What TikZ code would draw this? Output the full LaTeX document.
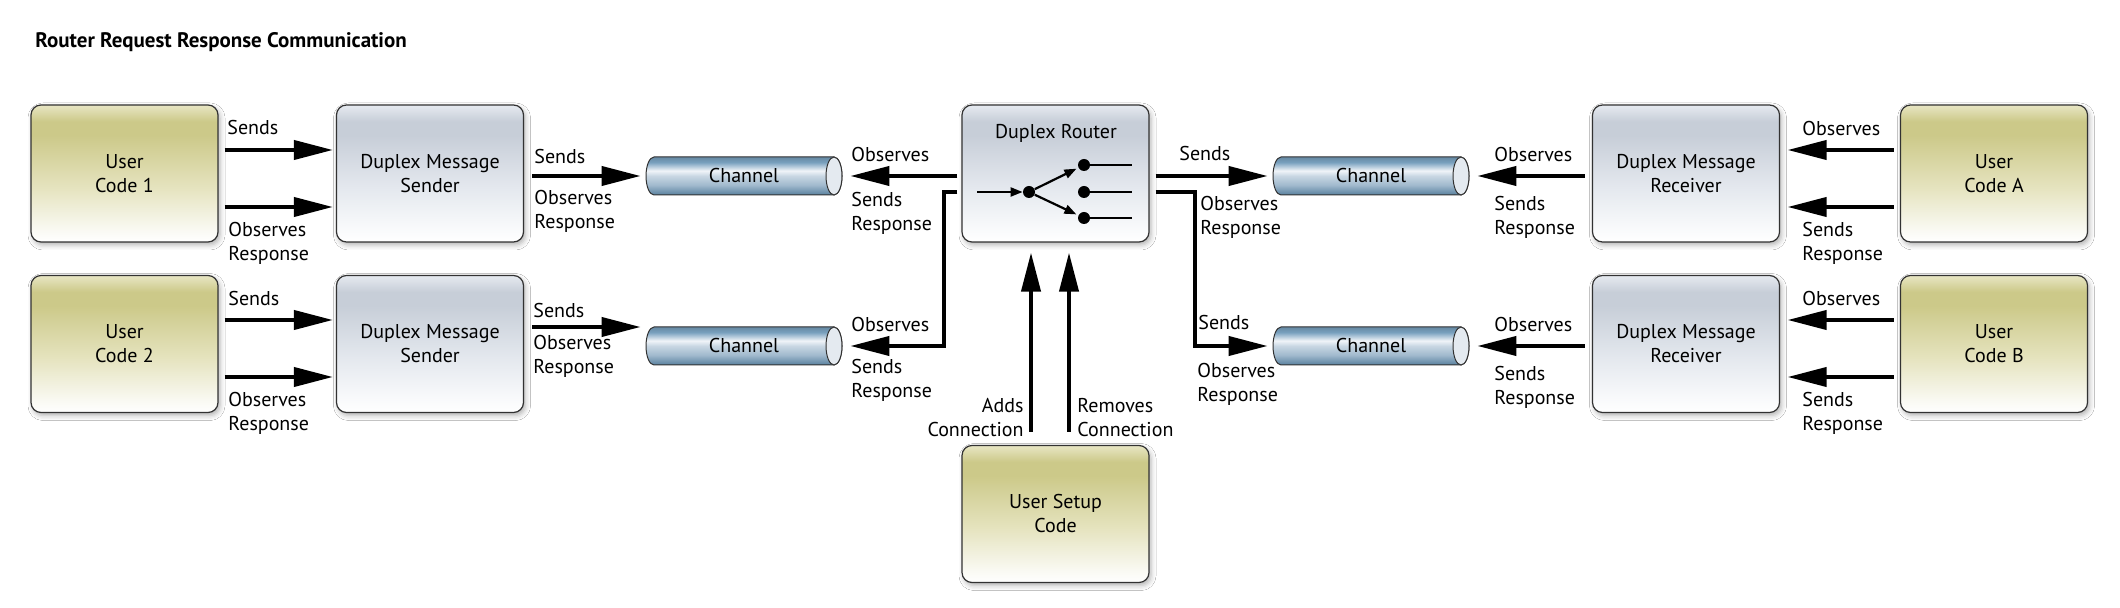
\documentclass[tikz,border=0pt]{standalone}
\usepackage{fontspec}
\setmainfont{PT Sans}
\usetikzlibrary{arrows.meta,calc,shadows.blur}
\definecolor{oliveC}{RGB}{204,201,137}
\definecolor{olivetop}{RGB}{232,230,196}
\definecolor{olivemid}{RGB}{229,227,190}
\definecolor{olivewhite}{RGB}{250,250,244}
\definecolor{blueC}{RGB}{199,206,216}
\definecolor{bluetop}{RGB}{230,234,240}
\definecolor{bluemid}{RGB}{228,232,238}
\definecolor{bluewhite}{RGB}{250,251,252}
\definecolor{chtop}{RGB}{120,160,190}
\definecolor{chmid}{RGB}{240,244,248}
\definecolor{chlow}{RGB}{160,185,205}
\definecolor{chbot}{RGB}{88,128,158}
\definecolor{chend}{RGB}{228,234,240}
\definecolor{boxline}{RGB}{50,50,50}
\pgfdeclareverticalshading{olivefill}{100bp}{color(0bp)=(olivewhite); color(25bp)=(white); color(29bp)=(olivewhite); color(45bp)=(olivemid); color(64bp)=(oliveC); color(69bp)=(oliveC); color(75bp)=(olivetop); color(100bp)=(olivetop)}
\pgfdeclareverticalshading{bluefill}{100bp}{color(0bp)=(white); color(25bp)=(white); color(29bp)=(bluewhite); color(45bp)=(bluemid); color(64bp)=(blueC); color(69bp)=(blueC); color(75bp)=(bluetop); color(100bp)=(bluetop)}
\pgfdeclareverticalshading{chanfill}{100bp}{color(0bp)=(chbot); color(25bp)=(chbot); color(38bp)=(chlow); color(50bp)=(chlow!50!chmid); color(57bp)=(chmid); color(68bp)=(chtop); color(75bp)=(chtop!85!black); color(100bp)=(chtop!85!black)}
\begin{document}
\begin{tikzpicture}[x=0.5pt,y=-0.5pt,
  font=\fontsize{10}{12}\selectfont,
  box/.style={rounded corners=5pt, minimum width=93.5pt, minimum height=68.5pt,
    inner sep=0pt, align=center, draw=boxline, line width=0.6pt,
    blur shadow={shadow xshift=1pt, shadow yshift=-1.5pt, shadow blur radius=2.5pt, shadow opacity=30}},
  userbox/.style={box, shade, shading=olivefill},
  msgbox/.style={box, shade, shading=bluefill},
  channel/.style={minimum width=100pt, minimum height=20pt, inner sep=0pt,
    path picture={
      \coordinate (pc) at (path picture bounding box.center);
      \shadedraw[shading=chanfill, draw=boxline, line width=0.5pt]
        ([shift={(-45pt,9.5pt)}]pc) -- ([shift={(45pt,9.5pt)}]pc)
        arc[start angle=90, end angle=-90, x radius=4pt, y radius=9.5pt]
        -- ([shift={(-45pt,-9.5pt)}]pc)
        arc[start angle=270, end angle=90, x radius=4pt, y radius=9.5pt] -- cycle;
      \filldraw[fill=chend, draw=boxline, line width=0.5pt] ([xshift=45pt]pc) ellipse[x radius=4pt, y radius=9.5pt];
    }},
  big/.style={line width=2pt, -{Triangle[length=19.5pt,width=9.5pt]}},
  small/.style={line width=1.1pt, -{Triangle[length=6pt,width=4.5pt]}},
  lbl/.style={anchor=west, align=left, inner sep=0pt},
  lblr/.style={anchor=east, align=right, inner sep=0pt},
  dot/.style={circle, fill=black, inner sep=0pt, minimum size=6pt}
]
\useasboundingbox (0,0) rectangle (2120,608);
\fill[white] (0,0) rectangle (2120,608);

\node[anchor=west, inner sep=0pt, font=\fontsize{10.5}{12}\selectfont\bfseries] (title) at (35,42) {Router Request Response Communication};

% boxes row 1
\node[userbox] (u1) at (124.5,173.5) {User\\Code 1};
\node[msgbox]  (s1) at (430,173.5) {Duplex Message\\Sender};
\node[msgbox]  (r)  at (1055.5,173.5) {};
\node[msgbox]  (rA) at (1686,173.5) {Duplex Message\\Receiver};
\node[userbox] (uA) at (1994,173.5) {User\\Code A};
% boxes row 2
\node[userbox] (u2) at (124.5,344) {User\\Code 2};
\node[msgbox]  (s2) at (430,344) {Duplex Message\\Sender};
\node[msgbox]  (rB) at (1686,344) {Duplex Message\\Receiver};
\node[userbox] (uB) at (1994,344) {User\\Code B};
% setup
\node[userbox] (su) at (1055.5,514) {User Setup\\Code};

% channels
\node[channel] (ch1) at (744,176) {Channel};
\node[channel] (ch2) at (744,346) {Channel};
\node[channel] (ch3) at (1371,176) {Channel};
\node[channel] (ch4) at (1371,346) {Channel};

% router internals
\node (rt) at (1056,133) {Duplex Router};
\coordinate (rin) at (977,192);
\node[dot] (c0) at (1029,192) {};
\node[dot] (c1) at (1084,165) {};
\node[dot] (c2) at (1084,192) {};
\node[dot] (c3) at (1084,218) {};
\coordinate (o1) at (1132,165);
\coordinate (o2) at (1132,192);
\coordinate (o3) at (1132,218);
\draw[small] (rin) -- (c0);
\draw[small, shorten >=1pt] (c0) -- (c1);
\draw[small, shorten >=1pt] (c0) -- (c3);
\draw[line width=1pt] (c1.center) -- (o1);
\draw[line width=1pt] (c2.center) -- (o2);
\draw[line width=1pt] (c3.center) -- (o3);

% left arrows
\draw[big] ($(u1.east|-0,150)+(6,0)$) -- ($(s1.west|-0,150)+(-3,0)$);
\draw[big] ($(u1.east|-0,207)+(6,0)$) -- ($(s1.west|-0,207)+(-3,0)$);
\draw[big] ($(u2.east|-0,320)+(6,0)$) -- ($(s2.west|-0,320)+(-3,0)$);
\draw[big] ($(u2.east|-0,377)+(6,0)$) -- ($(s2.west|-0,377)+(-3,0)$);
\draw[big] ($(s1.east|-0,176)+(8,0)$) -- ($(ch1.west|-0,176)+(-3,0)$);
\draw[big] ($(s2.east|-0,327)+(8,0)$) -- ($(ch2.west|-0,327)+(-3,0)$);
% router arrows
\draw[big] ($(r.west|-0,176)+(-4,0)$) -- ($(ch1.east|-0,176)+(6,0)$);
\draw[big] ($(r.west|-0,192)+(-4,0)$) -- ++(-13,0) |- ($(ch2.east|-0,346)+(6,0)$);
\draw[big] ($(r.east|-0,176)+(6,0)$) -- ($(ch3.west|-0,176)+(-3,0)$);
\draw[big] ($(r.east|-0,192)+(6,0)$) -- ++(39,0) |- ($(ch4.west|-0,346)+(-3,0)$);
% right arrows
\draw[big] ($(rA.west|-0,176)+(-7,0)$) -- ($(ch3.east|-0,176)+(6,0)$);
\draw[big] ($(rB.west|-0,346)+(-7,0)$) -- ($(ch4.east|-0,346)+(6,0)$);
\draw[big] ($(uA.west|-0,150)+(-6,0)$) -- ($(rA.east|-0,150)+(7.5,0)$);
\draw[big] ($(uA.west|-0,207)+(-6,0)$) -- ($(rA.east|-0,207)+(7.5,0)$);
\draw[big] ($(uB.west|-0,320)+(-6,0)$) -- ($(rB.east|-0,320)+(7.5,0)$);
\draw[big] ($(uB.west|-0,377)+(-6,0)$) -- ($(rB.east|-0,377)+(7.5,0)$);
% setup arrows
\draw[big] ($(su.north)+(-24.5,-13)$) -- ($(r.south)+(-24.5,10)$);
\draw[big] ($(su.north)+(13.5,-13)$) -- ($(r.south)+(13.5,10)$);

% labels
\node[lbl] (l1)  at (227,128) {Sends};
\node[lbl] (l2)  at (228,243) {Observes\\Response};
\node[lbl] (l3)  at (534,157) {Sends};
\node[lbl] (l4)  at (534,211) {Observes\\Response};
\node[lbl] (l5)  at (228,299) {Sends};
\node[lbl] (l6)  at (228,413) {Observes\\Response};
\node[lbl] (l7)  at (533,311) {Sends};
\node[lbl] (l8)  at (533,356) {Observes\\Response};
\node[lbl] (l9)  at (851,155) {Observes};
\node[lbl] (l10) at (851,213) {Sends\\Response};
\node[lbl] (l11) at (851,325) {Observes};
\node[lbl] (l12) at (851,380) {Sends\\Response};
\node[lbl] (l13) at (1179,154) {Sends};
\node[lbl] (l14) at (1200,217) {Observes\\Response};
\node[lbl] (l15) at (1198,323) {Sends};
\node[lbl] (l16) at (1197,384) {Observes\\Response};
\node[lbl] (l17) at (1494,155) {Observes};
\node[lbl] (l18) at (1494,217) {Sends\\Response};
\node[lbl] (l19) at (1494,325) {Observes};
\node[lbl] (l20) at (1494,387) {Sends\\Response};
\node[lbl] (l21) at (1802,129) {Observes};
\node[lbl] (l22) at (1802,243) {Sends\\Response};
\node[lbl] (l23) at (1802,299) {Observes};
\node[lbl] (l24) at (1802,413) {Sends\\Response};
\node[lblr] (l25) at (1024,418) {Adds\\Connection};
\node[lbl] (l26) at (1077,418) {Removes\\Connection};
\end{tikzpicture}
\end{document}
